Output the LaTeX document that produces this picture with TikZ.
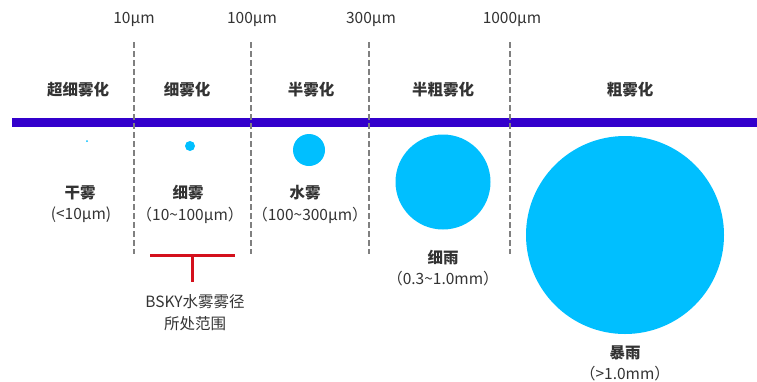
\documentclass[tikz,border=0pt]{standalone}
\usepackage{fontspec}
\setmainfont{Noto Sans CJK SC}
\definecolor{barblue}{HTML}{3300CC}
\definecolor{drop}{HTML}{00BFFF}
\definecolor{txt}{HTML}{333333}
\definecolor{dash}{HTML}{808080}
\definecolor{tred}{HTML}{D4101C}
\begin{document}
\begin{tikzpicture}[x=1pt,y=-1pt,
  lbl/.style={text=txt,font=\fontsize{15.5}{17}\selectfont,inner sep=0pt,anchor=center},
  cat/.style={lbl,font=\fontsize{15.5}{17}\selectfont\bfseries},
  sep/.style={draw=dash,line width=2pt,dash pattern=on 6pt off 3pt},
  dropc/.style={fill=drop,draw=none}]
\useasboundingbox (0,0) rectangle (757,381);
% bar
\fill[barblue] (12,118) rectangle (757,127);
% dashed separators
\foreach \x/\n in {134/a,251/b,369/c,510/d}{
  \coordinate (\n top) at (\x,42);
  \coordinate (\n bot) at (\x,254);
  \draw[sep] (\n top) -- (\n bot);
}
% scale labels
\node[lbl] (s1) at (134,19) {10μm};
\node[lbl] (s2) at (252,19) {100μm};
\node[lbl] (s3) at (371,19) {300μm};
\node[lbl] (s4) at (512,19) {1000μm};
% categories
\node[cat] (c1) at (78,90) {超细雾化};
\node[cat] (c2) at (187,90) {细雾化};
\node[cat] (c3) at (311,90) {半雾化};
\node[cat] (c4) at (443,90) {半粗雾化};
\node[cat] (c5) at (630,90) {粗雾化};
% droplets
\fill[dropc] (87,141) circle (1);
\fill[dropc] (190,146) circle (5);
\fill[dropc] (309,150) circle (16);
\fill[dropc] (443,182) circle (47.5);
\fill[dropc] (625,235) circle (99);
% droplet labels
\node[cat] (d1) at (80,193) {干雾};
\node[lbl] (d1r) at (81,215) {(<10μm)};
\node[cat] (d2) at (188,193) {细雾};
\node[lbl] (d2r) at (190,215) {（10\textasciitilde100μm）};
\node[cat] (d3) at (305,193) {水雾};
\node[lbl] (d3r) at (310,215) {（100\textasciitilde300μm）};
\node[cat] (d4) at (443,258) {细雨};
\node[lbl] (d4r) at (443,279) {（0.3\textasciitilde1.0mm）};
\node[cat] (d5) at (625,353) {暴雨};
\node[lbl] (d5r) at (625,374) {（>1.0mm）};
% red T marker
\coordinate (tl) at (150,255);
\coordinate (tr) at (235,255);
\coordinate (tm) at (192,255);
\coordinate (tb) at (192,282);
\draw[tred,line width=3pt] (tl) -- (tr);
\draw[tred,line width=3pt] (tm) -- (tb);
\node[lbl] (b1) at (195,302) {BSKY水雾雾径};
\node[lbl] (b2) at (195,324) {所处范围};
\end{tikzpicture}
\end{document}
